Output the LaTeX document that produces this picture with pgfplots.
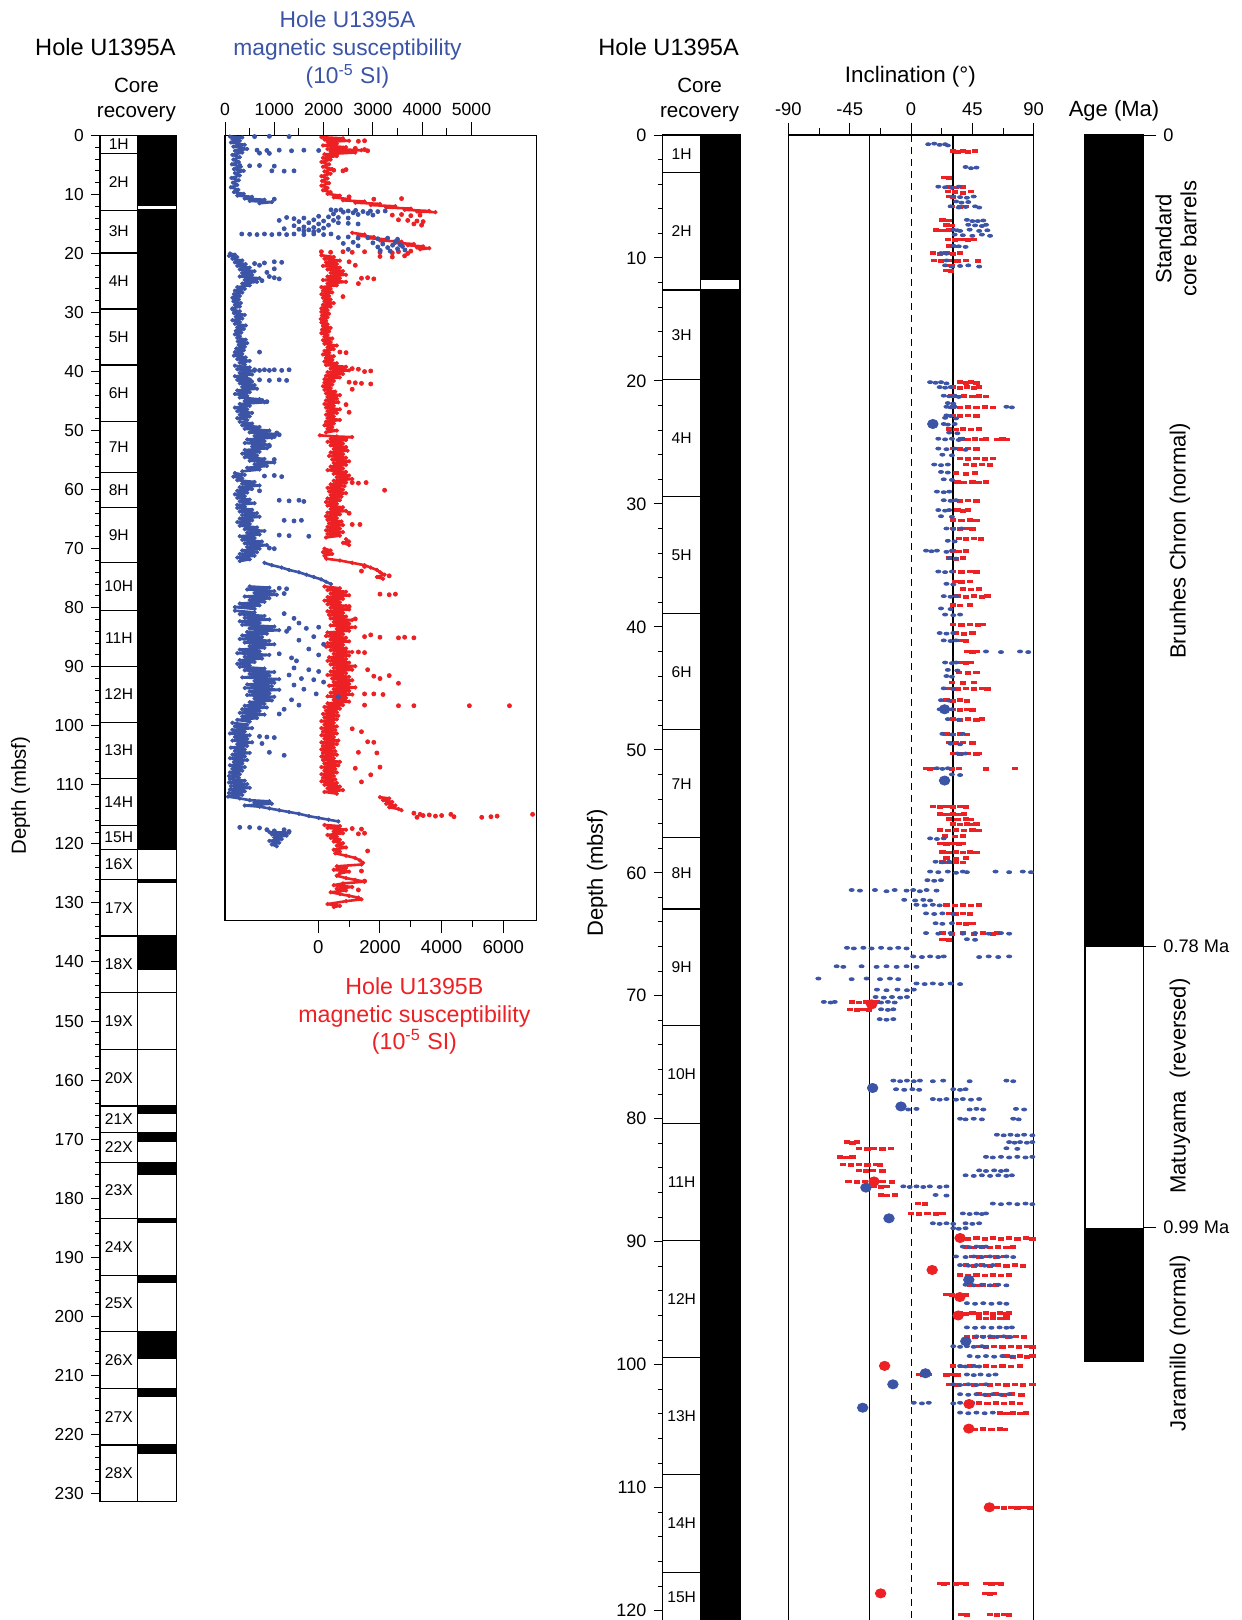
\documentclass[border=0pt]{standalone}
\usepackage{fontspec}
\setmainfont{Liberation Sans}
\usepackage{pgfplots}
\pgfplotsset{compat=1.18}

\definecolor{holeA}{RGB}{59,84,165}
\definecolor{holeB}{RGB}{237,32,36}
\newcommand{\fs}[2]{\fontsize{#1}{#2}\selectfont}

\tikzset{corelabel/.style={font=\fs{7.8}{9}, inner sep=0pt}}

\pgfplotsset{
  depth axis/.style={
    scale only axis, anchor=north west, y dir=reverse, ymin=0,
    axis line style={line width=0.6pt},
    tick style={black, line width=0.5pt},
    tick align=outside,
    scaled ticks=false,
    /pgf/number format/assume math mode=true,
    /pgf/number format/1000 sep={},
  },
  core axis/.style={depth axis, xmin=0, xmax=2, xtick=\empty,
    ytick pos=left, minor y tick num=4,
    major tick length=4.6pt, minor tick length=2.5pt, clip=false},
  boundary/.style={xcomb, black, line width=0.6pt},
  recovered/.style={fill=black, draw=none},
  magA/.style={holeA, line width=1.3pt, line join=round, line cap=round, mark=*, mark size=0.95pt, mark options={line width=0.3pt}},
  magB/.style={holeB, line width=1.3pt, line join=round, line cap=round, mark=*, mark size=0.95pt, mark options={line width=0.3pt}},
  dotA/.style={holeA, only marks, mark=*, mark size=1pt},
  dotB/.style={holeB, only marks, mark=*, mark size=1pt},
  incA/.style={holeA, only marks, mark=*, mark size=0.75pt, mark options={xscale=1.7}},
  incB/.style={holeB, only marks, mark=square*, mark size=0.65pt, mark options={xscale=2}},
  bigA/.style={holeA, only marks, mark=*, mark size=2.3pt, mark options={xscale=1.15}},
  bigB/.style={holeB, only marks, mark=*, mark size=2.3pt, mark options={xscale=1.15}},
}

\begin{document}
\begin{tikzpicture}
\path[use as bounding box] (0pt,0pt) rectangle (620.5pt,-810pt);

% ---------------- Hole U1395A core recovery (full hole) ----------------
\begin{axis}[core axis, at={(50pt,-67.7pt)}, width=38.35pt, height=683.1pt,
  ymax=231.4, ytick={0,10,...,230},
  yticklabel style={font=\fs{8.7}{10}}]
  \addplot[recovered] coordinates {(0.98,0)(2,0)(2,11.9)(0.98,11.9)} -- cycle;
  \addplot[recovered] coordinates {(0.98,12.5)(2,12.5)(2,120.9)(0.98,120.9)} -- cycle;
  \addplot[recovered] coordinates {(0.98,126.0)(2,126.0)(2,126.6)(0.98,126.6)} -- cycle;
  \addplot[recovered] coordinates {(0.98,135.6)(2,135.6)(2,141.3)(0.98,141.3)} -- cycle;
  \addplot[recovered] coordinates {(0.98,164.4)(2,164.4)(2,165.7)(0.98,165.7)} -- cycle;
  \addplot[recovered] coordinates {(0.98,168.9)(2,168.9)(2,170.5)(0.98,170.5)} -- cycle;
  \addplot[recovered] coordinates {(0.98,173.9)(2,173.9)(2,176.0)(0.98,176.0)} -- cycle;
  \addplot[recovered] coordinates {(0.98,183.4)(2,183.4)(2,184.2)(0.98,184.2)} -- cycle;
  \addplot[recovered] coordinates {(0.98,193.1)(2,193.1)(2,194.4)(0.98,194.4)} -- cycle;
  \addplot[recovered] coordinates {(0.98,202.6)(2,202.6)(2,207.3)(0.98,207.3)} -- cycle;
  \addplot[recovered] coordinates {(0.98,212.2)(2,212.2)(2,213.6)(0.98,213.6)} -- cycle;
  \addplot[recovered] coordinates {(0.98,221.8)(2,221.8)(2,223.4)(0.98,223.4)} -- cycle;
  \addplot[black, line width=0.6pt] coordinates {(0.98,0)(0.98,231.4)};
  \addplot[boundary] coordinates {(2,3.1)(2,12.65)(2,19.9)(2,29.4)(2,38.9)(2,48.4)(2,57.1)(2,63.0)
    (2,72.4)(2,80.4)(2,89.9)(2,99.4)(2,108.9)(2,116.9)(2,120.9)(2,126.0)(2,135.6)(2,145.2)
    (2,154.8)(2,164.4)(2,168.9)(2,173.9)(2,183.4)(2,193.1)(2,202.6)(2,212.2)(2,221.8)};
  \node[corelabel] at (axis cs:0.49,1.55) {1H};
  \node[corelabel] at (axis cs:0.49,7.85) {2H};
  \node[corelabel] at (axis cs:0.49,16.25) {3H};
  \node[corelabel] at (axis cs:0.49,24.65) {4H};
  \node[corelabel] at (axis cs:0.49,34.15) {5H};
  \node[corelabel] at (axis cs:0.49,43.65) {6H};
  \node[corelabel] at (axis cs:0.49,52.75) {7H};
  \node[corelabel] at (axis cs:0.49,60.05) {8H};
  \node[corelabel] at (axis cs:0.49,67.7) {9H};
  \node[corelabel] at (axis cs:0.49,76.4) {10H};
  \node[corelabel] at (axis cs:0.49,85.15) {11H};
  \node[corelabel] at (axis cs:0.49,94.65) {12H};
  \node[corelabel] at (axis cs:0.49,104.15) {13H};
  \node[corelabel] at (axis cs:0.49,112.9) {14H};
  \node[corelabel] at (axis cs:0.49,118.9) {15H};
  \node[corelabel] at (axis cs:0.49,123.45) {16X};
  \node[corelabel] at (axis cs:0.49,130.8) {17X};
  \node[corelabel] at (axis cs:0.49,140.4) {18X};
  \node[corelabel] at (axis cs:0.49,150.0) {19X};
  \node[corelabel] at (axis cs:0.49,159.6) {20X};
  \node[corelabel] at (axis cs:0.49,166.65) {21X};
  \node[corelabel] at (axis cs:0.49,171.4) {22X};
  \node[corelabel] at (axis cs:0.49,178.65) {23X};
  \node[corelabel] at (axis cs:0.49,188.25) {24X};
  \node[corelabel] at (axis cs:0.49,197.85) {25X};
  \node[corelabel] at (axis cs:0.49,207.4) {26X};
  \node[corelabel] at (axis cs:0.49,217.0) {27X};
  \node[corelabel] at (axis cs:0.49,226.6) {28X};
\end{axis}

% ---------------- Magnetic susceptibility, Hole U1395B (bottom scale) ----------------
\begin{axis}[depth axis, at={(112.5pt,-67.7pt)}, width=155.85pt, height=392.6pt,
  xmin=-3026, xmax=7084, ymax=133, ytick=\empty,
  xtick={0,2000,4000,6000}, minor xtick={1000,3000,5000},
  xtick pos=left, xticklabel pos=left,
  major tick length=6.3pt, minor tick length=3.3pt,
  axis line style={line width=0.75pt},
  xticklabel style={font=\fs{9.3}{11}}]
  \addplot[magB] coordinates {(100,0.3)(800,0.5)(200,0.7)(1000,0.9)(300,1.1)(600,1.4)(150,1.7)(900,2.0)(300,2.3)(1400,2.5)(400,2.7)(1200,2.9)(200,3.2)(600,3.5)(150,3.8)(400,4.1)(100,4.5)(350,4.9)(150,5.3)(450,5.7)(200,6.1)(400,6.5)(100,6.9)(300,7.3)(120,7.7)(350,8.1)(100,8.5)(300,8.9)(150,9.3)(400,9.6)(300,9.9)(700,10.2)(500,10.5)(1000,10.8)(800,11.0)(1500,11.2)(1200,11.4)(2000,11.6)(1700,11.8)(2500,12.0)(2200,12.2)(3000,12.4)(2800,12.6)(3600,12.8)(3200,12.9)(3800,13.0)};
  \addplot[magB] coordinates {(1100,16.5)(1500,16.8)(1300,17.0)(1800,17.2)(1600,17.4)(2200,17.6)(2000,17.8)(2700,18.0)(2500,18.2)(3100,18.4)(2900,18.6)(3400,18.8)(3200,19.0)(3600,19.1)(3300,19.3)};
  \addplot[magB] coordinates {(100,20.3)(500,20.6)(200,20.9)(700,21.2)(250,21.5)(600,21.8)(150,22.1)(700,22.4)(300,22.7)(800,23.0)(400,23.3)(900,23.6)(300,23.9)(700,24.2)(150,24.5)(900,24.8)(300,25.1)(600,25.4)(100,25.7)(400,26.0)(150,26.3)(450,26.6)(100,26.9)(350,27.2)(150,27.5)(400,27.8)(200,28.1)(500,28.4)(150,28.7)(400,29.0)(100,29.3)(300,29.6)(100,29.9)(350,30.2)(120,30.5)(300,30.8)(80,31.1)(250,31.4)(100,31.7)(300,32.0)(150,32.3)(400,32.6)(120,32.9)(350,33.2)(100,33.5)(300,33.8)(200,34.1)(450,34.4)(150,34.7)(400,35.0)(200,35.3)(600,35.6)(300,35.9)(500,36.2)(200,36.5)(350,36.8)(150,37.1)(500,37.4)(250,37.7)(450,38.0)(200,38.3)(600,38.6)(250,38.9)(900,39.2)(400,39.5)(1000,39.8)(300,40.1)(800,40.4)(250,40.7)(700,41.0)(200,41.3)(500,41.6)(200,41.9)(450,42.2)(150,42.5)(400,42.8)(200,43.1)(550,43.4)(250,43.7)(700,44.0)(300,44.3)(600,44.6)(250,44.9)(650,45.2)(200,45.5)(500,45.8)(250,46.1)(700,46.4)(300,46.7)(600,47.0)(250,47.3)(500,47.6)(300,47.9)(700,48.2)(250,48.5)(500,48.8)(200,49.1)(450,49.4)(300,49.7)(600,50.0)(250,50.3)};
  \addplot[magB] coordinates {(50,50.8)(600,51.0)(1100,51.1)(400,51.4)(900,51.6)(300,51.9)(800,52.2)(400,52.5)(900,52.8)(500,53.1)(950,53.4)(400,53.7)(800,54.0)(350,54.3)(900,54.6)(450,54.9)(1000,55.2)(500,55.5)(900,55.8)(400,56.1)(800,56.4)(300,56.7)(900,57.0)(500,57.3)(1000,57.6)(600,57.9)(1100,58.2)(500,58.5)(900,58.8)(400,59.1)(850,59.4)(300,59.7)(800,60.0)(350,60.3)(900,60.6)(400,60.9)(750,61.2)(300,61.5)(700,61.8)(250,62.1)(600,62.4)(300,62.7)(800,63.0)(400,63.3)(900,63.6)(300,63.9)(700,64.2)(250,64.5)(600,64.8)(300,65.1)(750,65.4)(350,65.7)(800,66.0)(300,66.3)(700,66.6)(250,66.9)(800,67.2)(300,67.5)(700,67.8)(250,68.1)};
  \addplot[magB] coordinates {(900,68.4)(1000,68.8)(800,69.0)(1000,69.4)};
  \addplot[magB] coordinates {(200,70.0)(400,70.3)(150,70.6)(450,70.9)(200,71.2)(260,71.7)(700,72.0)(1100,72.4)(1500,72.8)(1700,73.2)(1900,73.6)(2000,74.0)(2150,74.4)(1900,74.8)(2100,75.1)};
  \addplot[magB] coordinates {(200,76.4)(700,76.7)(300,77.0)(900,77.3)(400,77.6)(1000,77.9)(300,78.2)(800,78.5)(200,78.8)(700,79.1)(300,79.4)(900,79.7)(400,80.0)(1000,80.3)(300,80.6)(800,80.9)(350,81.2)(900,81.5)(400,81.8)(1100,82.1)(500,82.4)(1000,82.7)(400,83.0)(1200,83.3)(600,83.6)(1000,83.9)(300,84.2)(800,84.5)(250,84.8)(900,85.1)(400,85.4)(1000,85.7)(300,86.0)(800,86.3)(250,86.6)(900,86.9)(400,87.2)(1100,87.5)(500,87.8)(1000,88.1)(350,88.4)(900,88.7)(300,89.0)(1000,89.3)(400,89.6)(1200,89.9)(500,90.2)(1100,90.5)(400,90.8)(900,91.1)(300,91.4)(1000,91.7)(450,92.0)(1100,92.3)(500,92.6)(1000,92.9)(350,93.2)(1200,93.5)(500,93.8)(1000,94.1)(400,94.4)(1100,94.7)(300,95.0)(900,95.3)(500,95.6)(1000,95.9)(300,96.2)(800,96.5)(200,96.8)(700,97.1)(250,97.4)(600,97.7)(150,98.0)(650,98.3)(200,98.6)(600,98.9)(100,99.2)(500,99.5)(200,99.8)(600,100.1)(100,100.4)(550,100.7)(150,101.0)(600,101.3)(100,101.6)(500,101.9)(200,102.2)(650,102.5)(100,102.8)(600,103.1)(150,103.4)(500,103.7)(100,104.0)(550,104.3)(150,104.6)(600,104.9)(100,105.2)(500,105.5)(150,105.8)(700,106.1)(200,106.4)(650,106.7)(100,107.0)(550,107.3)(200,107.6)(600,107.9)(100,108.2)(500,108.5)(150,108.8)(550,109.1)(100,109.4)(600,109.7)(200,110.0)(700,110.3)(300,110.6)(800,110.9)(200,111.2)(600,111.5)};
  \addplot[magB] coordinates {(2000,112.1)(2300,112.3)(2100,112.6)(2400,112.9)(2200,113.2)(2500,113.5)(2300,113.8)(2600,114.1)(2700,114.3)};
  \addplot[magB] coordinates {(200,116.8)(700,117.0)(300,117.3)(900,117.6)(500,117.9)(800,118.2)(300,118.5)(600,118.8)(400,119.0)(700,119.3)(500,119.6)(800,119.9)(600,120.3)(900,120.6)(500,121.0)(700,121.3)(550,121.6)(900,122.0)(1200,122.4)(1350,122.8)(1450,123.2)(1400,123.5)(600,123.8)(900,124.1)(500,124.4)(1000,124.7)(700,125.0)(600,125.4)(900,125.8)(1200,126.1)(1500,126.4)(800,126.7)(500,127.0)(1100,127.3)(600,127.6)(900,127.9)(400,128.2)(700,128.5)(1000,128.8)(1300,129.1)(1400,129.4)(900,129.7)(300,130.2)(700,130.5)(500,130.7)};
  \addplot[dotB] coordinates {(1500,0.9)(1300,1.0)(1200,2.2)(1500,2.4)(1600,2.6)(500,5.9)(800,6.0)(900,5.8)(2700,10.7)(1800,10.8)(1000,10.4)
    (2400,13.5)(2700,13.4)(3000,13.6)(3300,13.5)(2600,14.3)(2900,14.4)(3200,14.5)(3400,14.6)(3100,15.0)(3350,15.2)
    (100,19.7)(400,19.8)(800,19.7)(1100,19.8)(1500,19.7)(2000,19.8)(2400,19.9)(2600,19.7)(2900,20.0)(3000,19.6)(2000,20.5)(2400,20.6)(2800,20.4)
    (1000,21.4)(1200,22.0)(1400,24.2)(1600,24.1)(1800,24.3)(1300,25.1)(800,27.3)(700,36.7)(900,36.8)(1100,39.5)(1300,39.6)(1500,40.0)(1700,39.9)
    (1000,41.8)(1200,41.9)(1400,42.0)(1700,42.1)(1100,43.0)(900,45.6)(1000,46.9)
    (1100,58.8)(1300,58.9)(1550,58.8)(2150,60.1)(1000,64.0)(1350,65.9)(1100,65.9)(1500,73.0)(1400,73.8)(2300,74.6)
    (2000,77.7)(2300,77.8)(2500,77.7)(1000,79.8)(1200,81.9)(1700,84.6)(2000,85.0)(2600,85.1)(2800,85.0)(3100,85.1)(1500,84.9)
    (1300,87.5)(1500,87.6)(1600,90.5)(1800,91.6)(2000,92.0)(2300,91.5)(2600,92.8)(1500,94.6)(1800,94.6)(2100,94.7)
    (1500,96.5)(2600,96.6)(3100,96.6)(4900,96.6)(6200,96.6)(1100,100.5)(1400,101.0)(1600,102.7)(1800,102.8)(1300,104.5)(1900,104.6)
    (2000,107.0)(1200,107.2)(1700,108.3)(1400,109.5)
    (3100,114.8)(3300,115.0)(3400,115.2)(3600,115.1)(3800,115.3)(4000,115.2)(4400,115.4)(5300,115.5)(5600,115.4)(5800,115.3)(6950,115.0)(4300,115.0)(3200,115.5)
    (1500,118.2)(1300,118.3)(1100,117.4)(1400,117.5)(1600,121.2)(1400,124.6)(1500,126.3)(1300,127.8)};
\end{axis}

% ---------------- Magnetic susceptibility, Hole U1395A (top scale) ----------------
\begin{axis}[depth axis, at={(112.5pt,-67.7pt)}, width=155.85pt, height=392.6pt,
  xmin=0, xmax=6323, ymax=133, ytick=\empty,
  xtick={0,1000,...,5000}, minor xtick={500,1500,...,4500},
  xtick pos=right, xticklabel pos=right,
  major tick length=6.5pt, minor tick length=3.5pt,
  axis line style={line width=0.75pt},
  xticklabel style={font=\fs{8.8}{10}}]
  \addplot[magA] coordinates {(100,0.2)(350,0.35)(150,0.6)(300,0.9)(120,1.2)(400,1.6)(170,1.9)(450,2.3)(200,2.6)(350,2.9)(150,3.3)(300,3.7)(170,4.1)(280,4.5)(140,4.9)(320,5.3)(180,5.7)(380,6.0)(200,6.4)(300,6.8)(130,7.2)(280,7.6)(160,8.0)(250,8.4)(120,8.8)(270,9.2)(180,9.6)(380,9.9)(250,10.2)(550,10.4)(400,10.7)(800,10.9)(500,11.1)(950,11.3)(700,11.5)};
  \addplot[magA] coordinates {(100,20.0)(200,20.2)(80,20.4)(250,20.6)(150,20.9)(350,21.2)(200,21.5)(420,21.8)(250,22.1)(500,22.4)(300,22.7)(600,23.0)(350,23.3)(550,23.6)(300,23.9)(700,24.2)(400,24.5)(650,24.8)(350,25.1)(500,25.4)(250,25.7)(400,26.0)(200,26.3)(350,26.6)(180,26.9)(300,27.2)(150,27.5)(280,27.8)(170,28.1)(320,28.4)(200,28.7)(300,29.0)(150,29.3)};
  \addplot[magA] coordinates {(150,29.5)(300,29.8)(180,30.1)(400,30.4)(220,30.7)(350,31.0)(150,31.3)(300,31.6)(200,31.9)(420,32.2)(250,32.5)(380,32.8)(220,33.1)(330,33.4)(200,33.7)(300,34.0)(250,34.3)(420,34.6)(260,34.9)(450,35.2)(280,35.5)(400,35.8)(230,36.1)(380,36.4)(200,36.7)(350,37.0)(180,37.3)(420,37.6)(250,37.9)(500,38.2)(300,38.5)(400,38.8)};
  \addplot[magA] coordinates {(200,39.0)(500,39.3)(250,39.6)(600,39.9)(300,40.2)(550,40.5)(200,40.8)(450,41.1)(250,41.4)(550,41.7)(300,42.0)(600,42.3)(350,42.6)(650,42.9)(250,43.2)(500,43.5)(200,43.8)(450,44.1)(300,44.4)(700,44.7)(400,45.0)(800,45.2)(300,45.5)(500,45.8)(200,46.1)(450,46.4)(250,46.7)(550,47.0)(300,47.3)(500,47.6)(250,47.9)(450,48.2)};
  \addplot[magA] coordinates {(300,48.5)(550,48.8)(350,49.1)(700,49.4)(400,49.7)(900,50.0)(500,50.3)(1050,50.6)(600,50.9)(950,51.2)(450,51.5)(800,51.8)(400,52.1)(900,52.4)(550,52.7)(850,53.0)(400,53.3)(700,53.6)(350,53.9)(650,54.2)(400,54.5)(800,54.8)(500,55.1)(1000,55.4)(600,55.7)(850,56.0)(450,56.3)(700,56.6)(350,56.9)};
  \addplot[magA] coordinates {(200,57.2)(400,57.5)(170,57.8)(350,58.1)(250,58.4)(600,58.7)(350,59.0)(700,59.3)(300,59.6)(550,59.9)(250,60.2)(450,60.5)(200,60.8)(400,61.1)(250,61.4)(500,61.7)(300,62.0)(600,62.3)(250,62.6)(400,62.9)};
  \addplot[magA] coordinates {(250,63.1)(550,63.4)(300,63.7)(650,64.0)(350,64.3)(700,64.6)(300,64.9)(550,65.2)(250,65.5)(500,65.8)(300,66.1)(650,66.4)(400,66.7)(800,67.0)(450,67.3)(700,67.6)(300,67.9)(600,68.2)(350,68.5)(750,68.8)(400,69.1)(850,69.4)(450,69.7)(700,70.0)(350,70.3)(650,70.6)(300,70.9)(600,71.2)(250,71.5)(500,71.8)(300,72.1)};
  \addplot[magA] coordinates {(800,72.4)(950,72.8)(1150,73.2)(1300,73.6)(1500,74.0)(1650,74.4)(1800,74.8)(1950,75.2)(2050,75.6)(2150,76.0)};
  \addplot[magA] coordinates {(500,76.4)(900,76.6)(450,76.9)(1000,77.2)(600,77.5)(1050,77.8)(400,78.1)(900,78.4)(500,78.7)(800,79.0)(300,79.3)(700,79.6)(200,79.9)(600,80.2)};
  \addplot[magA] coordinates {(200,80.5)(600,80.8)(300,81.1)(800,81.4)(400,81.7)(900,82.0)(300,82.3)(700,82.6)(350,82.9)(1000,83.2)(500,83.5)(1100,83.8)(450,84.1)(850,84.4)(350,84.7)(750,85.0)(300,85.3)(900,85.6)(400,85.9)(1000,86.2)(500,86.5)(800,86.8)(300,87.1)(700,87.4)(250,87.7)(900,88.0)(400,88.3)(750,88.6)(300,88.9)(600,89.2)(250,89.5)(500,89.8)};
  \addplot[magA] coordinates {(300,90.0)(800,90.3)(400,90.6)(1000,90.9)(500,91.2)(900,91.5)(350,91.8)(1100,92.1)(600,92.4)(1000,92.7)(450,93.0)(950,93.3)(400,93.6)(1100,93.9)(500,94.2)(900,94.5)(450,94.8)(1000,95.1)(600,95.4)(950,95.7)(500,96.0)(800,96.3)(400,96.6)(850,96.9)(350,97.2)(700,97.5)(300,97.8)(800,98.1)(350,98.4)(650,98.7)(250,99.0)(500,99.3)};
  \addplot[magA] coordinates {(150,99.5)(450,99.8)(200,100.1)(550,100.4)(150,100.7)(400,101.0)(100,101.3)(500,101.6)(200,101.9)(450,102.2)(150,102.5)(550,102.8)(250,103.1)(450,103.4)(120,103.7)(400,104.0)(200,104.3)(500,104.6)(150,104.9)(400,105.2)(100,105.5)(450,105.8)(180,106.1)(350,106.4)(100,106.7)(400,107.0)(150,107.3)(350,107.6)(100,107.9)(300,108.2)(80,108.5)(280,108.8)};
  \addplot[magA] coordinates {(100,109.0)(400,109.3)(80,109.6)(450,109.9)(120,110.2)(500,110.5)(100,110.8)(400,111.1)(80,111.4)(350,111.7)(60,112.0)(300,112.3)(500,112.6)(900,112.8)(600,113.0)(950,113.2)(400,113.5)(700,113.7)(900,114.0)(1100,114.3)(1300,114.6)(1500,114.9)(1700,115.3)(1900,115.6)(2100,115.9)(2300,116.2)};
  \addplot[magA] coordinates {(900,118.0)(1300,118.1)(950,118.4)(1250,118.6)(1000,118.9)(1150,119.2)(900,119.5)(1100,119.8)(950,120.1)(1050,120.4)};
  \addplot[dotA] coordinates {(600,0.2)(900,0.15)(1300,0.2)(650,2.5)(850,2.55)(1100,2.5)(1350,2.6)(1600,2.5)(1900,2.55)(700,3.0)(900,3.05)(300,5.1)(500,5.15)(700,5.1)(1000,5.2)(950,6.0)(1200,6.05)(1400,6.0)(1000,10.8)
    (2150,12.6)(2250,12.7)(2350,12.6)(2500,12.8)(2650,12.7)(2800,12.9)(2950,12.8)(3100,12.9)(3250,12.8)(2400,13.0)(2600,13.1)(2900,13.2)(2200,13.3)(2700,13.4)(3000,13.5)
    (1900,13.7)(2100,13.8)(2300,13.9)(2500,14.0)(1250,13.9)(1400,14.1)(1600,14.0)(1800,14.3)(2000,14.5)(2200,14.4)(1100,14.4)(1500,14.6)(1700,14.8)(1900,15.0)(2100,15.2)
    (2300,14.8)(2500,14.9)(2700,15.0)(1400,15.3)(1600,15.5)(1800,15.6)(2000,15.7)(1500,15.9)(1700,16.0)(1900,16.1)(1200,15.8)(1600,16.2)(1800,16.3)
    (340,16.7)(500,16.75)(650,16.8)(800,16.7)(950,16.8)(1100,16.7)(1250,16.8)(1400,16.7)(1600,16.8)(1800,16.7)(2000,16.8)(2150,16.7)
    (2300,17.3)(2500,17.2)(2700,17.4)(2900,17.3)(3100,17.5)(3300,17.4)(3500,17.6)
    (3000,18.2)(3200,18.4)(3400,18.6)(3600,18.8)(3300,19.0)(3500,19.2)(3100,18.9)(2700,18.7)(2500,19.3)(3650,19.4)(2400,18.3)(2600,18.1)(3450,18.0)(3550,18.5)(3150,19.5)(3350,19.6)
    (800,21.6)(1000,21.4)(1150,21.5)(600,21.7)(900,23.9)(1000,24.1)(1100,24.3)(750,24.6)(850,23.2)(700,22.0)(1000,22.6)
    (700,36.7)(600,39.7)(800,39.7)(900,39.8)(1000,39.7)(1150,39.8)(1300,39.7)(700,39.8)(300,41.4)(500,41.4)(700,41.4)(900,41.5)(1100,41.4)(1250,41.5)
    (850,45.1)(750,44.9)(1050,50.4)(1100,50.7)(1000,51.0)(900,52.6)(1000,54.9)
    (800,57.7)(1000,57.6)(1150,57.8)(700,60.2)(1100,61.8)(1300,61.9)(1500,61.8)(1600,62.0)
    (1200,65.2)(1400,65.3)(1550,65.2)(1300,67.8)(1700,67.9)(1100,67.7)(900,69.9)(1000,70.0)
    (1100,76.7)(1250,76.8)(1200,77.6)
    (1200,81.0)(1400,81.8)(1500,82.6)(1300,83.5)(1650,83.5)(1900,83.3)(1250,84.0)(1800,84.9)(1500,85.5)(2000,86.2)(1700,87.0)(1100,87.8)(1900,88.0)(1350,88.5)(1450,89.0)
    (1400,90.2)(1700,90.5)(1900,90.8)(1300,91.4)(1550,92.0)(1800,92.2)(2000,92.6)(1400,93.1)(1600,93.8)(1850,94.6)(2300,95.1)(1350,95.6)(1500,96.5)(1200,97.2)(1100,98.0)
    (700,101.8)(850,101.9)(1000,102.0)(750,103.0)(900,104.5)(1200,105.0)
    (300,117.2)(500,117.2)(700,117.3)(850,117.6)(1000,117.8)(1200,117.6)(1300,117.9)};
\end{axis}

% ---------------- Hole U1395A core recovery (upper 120 m) ----------------
\begin{axis}[core axis, at={(331.35pt,-67.5pt)}, width=38.65pt, height=747pt,
  ymax=121.5, ytick={0,10,...,120},
  yticklabel style={font=\fs{9}{10}}]
  \addplot[recovered] coordinates {(0.97,0)(2,0)(2,11.8)(0.97,11.8)} -- cycle;
  \addplot[recovered] coordinates {(0.97,12.55)(2,12.55)(2,121.5)(0.97,121.5)} -- cycle;
  \addplot[black, line width=0.6pt] coordinates {(0.97,0)(0.97,121.5)};
  \addplot[boundary] coordinates {(0.97,3.07)(0.97,12.6)(0.97,19.87)(0.97,29.4)(0.97,38.9)(0.97,48.35)
    (0.97,57.1)(0.97,62.95)(0.97,72.4)(0.97,80.4)(0.97,89.9)(0.97,99.4)(0.97,108.9)(0.97,116.9)};
  \node[corelabel] at (axis cs:0.49,1.55) {1H};
  \node[corelabel] at (axis cs:0.49,7.85) {2H};
  \node[corelabel] at (axis cs:0.49,16.25) {3H};
  \node[corelabel] at (axis cs:0.49,24.65) {4H};
  \node[corelabel] at (axis cs:0.49,34.15) {5H};
  \node[corelabel] at (axis cs:0.49,43.65) {6H};
  \node[corelabel] at (axis cs:0.49,52.75) {7H};
  \node[corelabel] at (axis cs:0.49,60.05) {8H};
  \node[corelabel] at (axis cs:0.49,67.7) {9H};
  \node[corelabel] at (axis cs:0.49,76.4) {10H};
  \node[corelabel] at (axis cs:0.49,85.15) {11H};
  \node[corelabel] at (axis cs:0.49,94.65) {12H};
  \node[corelabel] at (axis cs:0.49,104.15) {13H};
  \node[corelabel] at (axis cs:0.49,112.9) {14H};
  \node[corelabel] at (axis cs:0.49,118.9) {15H};
\end{axis}

% ---------------- Inclination ----------------
\begin{axis}[depth axis, at={(394.2pt,-67.5pt)}, width=122.65pt, height=747pt,
  xmin=-90, xmax=90, ymax=121.5, ytick=\empty,
  xtick={-90,-45,0,45,90}, xticklabels={-90,-45,0,45,90},
  minor xtick={-67.5,-22.5,22.5,67.5},
  xtick pos=right, xticklabel pos=right,
  major tick length=6.2pt, minor tick length=3.5pt,
  axis line style={line width=0.7pt},
  xticklabel style={font=\fs{9.2}{10}}]
  \addplot[incB] coordinates {(31,1.3)(34,1.35)(38,1.3)(42,1.35)(47,1.3)(24,3.45)(28,3.5)(28,4.2)(33,4.25)(38,4.2)(27,4.6)(32,4.65)(38,4.7)(44,4.6)(28,5.0)(31,5.05)(30,5.8)(36,5.85)(40,5.8)(23,6.9)(28,6.95)(26,7.3)(30,7.35)(18,7.7)(23,7.75)(28,7.7)(27,8.5)(32,8.55)(37,8.5)(42,8.55)(46,8.5)(28,9.0)(34,9.05)(16,9.6)(21,9.65)(26,9.6)(31,9.65)(36,9.6)(17,10.2)(22,10.25)(28,10.2)(34,10.25)(40,10.2)(49,10.25)(26,10.6)(30,10.65)(26,11.0)(29,11.05)
    (36,20.1)(40,20.15)(44,20.1)(48,20.15)(31,20.5)(36,20.55)(41,20.5)(46,20.55)(50,20.5)(29,21.2)(34,21.25)(39,21.2)(45,21.25)(50,21.2)(55,21.25)(31,22.1)(36,22.15)(42,22.1)(48,22.15)(54,22.1)(60,22.15)(31,22.8)(36,22.85)(42,22.8)(48,22.85)(28,23.9)(33,23.95)(38,23.9)(44,23.95)(50,23.9)
    (37,24.7)(42,24.75)(47,24.7)(52,24.75)(55,24.7)(63,24.75)(67,24.7)(70,24.75)(31,25.5)(36,25.55)(42,25.5)(48,25.55)(36,26.3)(42,26.35)(48,26.3)(54,26.35)(60,26.3)(40,26.8)(46,26.85)(52,26.8)(58,26.85)(33,27.5)(40,27.55)(47,27.5)
    (34,28.2)(39,28.25)(45,28.2)(50,28.25)(55,28.2)(31,29.7)(36,29.75)(42,29.7)(48,29.75)(34,30.5)(38,30.55)(42,30.5)(31,31.3)(37,31.35)(43,31.3)(48,31.35)(31,32.0)(36,32.05)(41,32.0)(45,32.05)(35,32.8)(40,32.85)(46,32.8)(51,32.85)
    (31,33.8)(35,33.85)(40,33.8)(28,34.4)(33,34.45)(38,34.4)(31,35.5)(37,35.55)(43,35.5)(48,35.55)(32,36.3)(37,36.35)(43,36.3)(38,36.9)(44,36.95)(50,36.9)(34,37.5)(40,37.55)(46,37.5)(52,37.55)(56,37.5)(31,38.2)(36,38.25)(43,38.2)
    (31,39.8)(37,39.85)(43,39.8)(49,39.85)(53,39.8)(33,40.5)(39,40.55)(45,40.5)(36,41.1)(40,41.15)(41,42.0)(45,42.05)(48,42.0)(36,42.9)(40,42.95)(44,42.9)(35,43.7)(42,43.75)(48,43.7)(30,44.5)(38,44.55)(46,44.5)
    (28,45.0)(34,45.05)(40,45.0)(46,45.05)(52,45.0)(56,45.05)(26,45.96)(31,46.0)(36,45.96)(41,46.0)(31,46.7)(36,46.75)(41,46.7)(45,46.75)(31,47.5)(36,47.55)(42,47.5)(48,47.55)(52,47.5)(26,48.7)(31,48.75)(36,48.7)(41,48.75)
    (28,49.4)(33,49.45)(38,49.4)(45,49.45)(31,50.3)(36,50.35)(42,50.3)(48,50.35)(50,50.3)(11,51.5)(14,51.55)(17,51.5)(30,51.55)(35,51.5)(55,51.55)(76,51.5)
    (16,54.6)(21,54.65)(26,54.6)(31,54.65)(36,54.6)(40,54.65)(21,55.2)(26,55.25)(31,55.2)(35,55.25)(39,55.2)(28,55.6)(34,55.65)(40,55.6)(44,55.65)(31,56.0)(36,56.05)(41,56.0)(45,56.05)(48,56.0)
    (21,56.5)(27,56.55)(33,56.5)(39,56.55)(45,56.5)(50,56.55)(25,57.0)(32,57.05)(38,57.0)(21,57.6)(26,57.65)(31,57.6)(35,57.65)(38,57.6)(23,58.3)(28,58.35)(33,58.3)(38,58.35)(43,58.3)(48,58.35)(26,58.8)(33,58.85)(40,58.8)(23,59.1)(28,59.15)(33,59.1)(38,59.15)
    (26,62.6)(32,62.65)(38,62.6)(44,62.65)(50,62.6)(28,63.3)(33,63.35)(38,63.3)(43,63.35)(35,64.1)(40,64.15)(45,64.1)(23,64.9)(30,64.95)(38,64.9)(46,64.95)(53,64.9)(60,64.95)(63,64.9)(23,65.4)(28,65.45)
    (-43.6,70.5)(-38,70.55)(-33,70.5)(-28,70.55)(-25,70.5)(-45,71.1)(-40,71.15)(-35,71.1)(-31,71.15)
    (-47,81.9)(-43,81.95)(-40,81.9)(-38,82.4)(-32,82.45)(-27,82.4)(-21,82.45)(-15,82.4)(-52,83.1)(-48,83.15)(-43,83.1)(-50,83.7)(-44,83.75)(-38,83.7)(-32,83.75)(-26,83.7)(-23,83.75)(-38,84.2)(-33,84.25)(-28,84.2)(-21,84.25)
    (-46,85.1)(-40,85.15)(-34,85.1)(-27,85.15)(-21,85.1)(-14,85.15)(-27,85.5)(-22,85.55)(-18,85.5)(-22,86.2)(-18,86.25)(-12,86.2)(5,86.9)(10,86.95)(0,87.7)(6,87.75)(12,87.7)(18,87.75)(23,87.7)
    (36,89.7)(42,89.75)(48,89.7)(54,89.75)(60,89.7)(66,89.75)(72,89.7)(78,89.75)(84,89.7)(89,89.75)(40,90.4)(46,90.45)(52,90.4)(58,90.45)(64,90.4)(70,90.45)(75,90.4)(45,91.2)(50,91.25)(56,91.2)(62,91.25)(68,91.2)
    (40,91.9)(46,91.95)(52,91.9)(58,91.95)(64,91.9)(70,91.95)(76,91.9)(82,91.95)(36,92.7)(42,92.75)(48,92.7)(54,92.75)(60,92.7)(66,92.75)(72,92.7)(43,93.5)(48,93.55)(53,93.5)(58,93.55)(62,93.5)(26,94.3)(30,94.35)(35,94.3)(40,94.35)
    (36,95.8)(40,95.85)(45,95.8)(50,95.85)(55,95.8)(60,95.85)(65,95.8)(70,95.85)(72,95.8)(50,96.2)(55,96.25)(60,96.2)(65,96.25)(70,96.2)(41,97.7)(47,97.75)(53,97.7)(59,97.75)(65,97.7)(71,97.75)(77,97.7)(83,97.75)
    (50,98.5)(55,98.55)(61,98.5)(67,98.55)(73,98.5)(79,98.55)(85,98.5)(89,98.55)(70,99.3)(75,99.35)(80,99.3)(85,99.35)(89,99.3)(31,100.1)(37,100.15)(43,100.1)(49,100.15)(55,100.1)(61,100.15)(67,100.1)(73,100.15)(80,100.1)
    (6,100.8)(9,100.85)(13,100.8)(26,100.85)(30,100.8)(34,100.85)(28,101.6)(34,101.65)(40,101.6)(46,101.65)(52,101.6)(58,101.65)(64,101.6)(70,101.65)(76,101.6)(82,101.65)(89,101.6)
    (50,102.4)(56,102.45)(62,102.4)(68,102.45)(74,102.4)(81,102.45)(50,103.1)(56,103.15)(62,103.1)(68,103.15)(74,103.1)(80,103.15)(65,103.9)(70,103.95)(75,103.9)(80,103.95)(84,103.9)
    (41,105.2)(47,105.25)(53,105.2)(59,105.25)(65,105.2)(69,105.25)(63,111.6)(68,111.65)(73,111.6)(78,111.65)(83,111.6)(87,111.65)
    (21,117.8)(24,117.85)(26,117.8)(33,117.85)(37,117.8)(40,117.85)(55,117.8)(59,117.85)(63,117.8)(66,117.85)(54,118.6)(58,118.65)(61,118.6)(37,120.3)(41,120.35)(58,120.3)(63,120.35)(68,120.3)(72,120.35)};
  \addplot[incA] coordinates {(12.6,0.75)(17,0.7)(21,0.8)(25,0.75)(27,0.85)(40,2.6)(44,2.7)(48,2.65)(20,4.2)(25,4.25)(30,4.3)(35,4.2)(31,5.0)(36,5.05)(41,5.1)(46,5.0)(33,5.4)(37,5.5)(42,5.45)(29,5.8)(35,5.9)(40,5.85)(47,5.8)(50,5.9)
    (41,6.9)(45,7.0)(49,7.0)(53,6.95)(42,7.3)(47,7.35)(52,7.4)(55,7.3)(31,7.7)(34,7.75)(36,7.8)(43,7.7)(50,7.8)(56,7.75)(32,8.1)(38,8.15)(45,8.2)(52,8.1)(58,8.2)(31,9.0)(35,9.05)(40,9.1)(22,9.6)(26,9.65)(26,10.2)(25,10.6)(30,10.7)(36,10.65)(42,10.6)(50,10.7)
    (14,20.1)(18,20.15)(22,20.1)(26,20.2)(21,20.5)(25,20.55)(29,20.5)(27,21.8)(31,21.85)(24,21.2)(28,21.25)(32,21.2)(35,21.3)(26,22.1)(29,22.15)(32,22.1)(70,22.1)(74,22.15)(25,23.0)(33,23.05)(26,22.8)(29,22.85)(24,23.5)(27,23.55)(32,23.5)(28,24.2)(34,24.25)
    (20,24.7)(25,24.75)(30,24.7)(35,24.8)(38,24.7)(20,25.5)(26,25.55)(32,25.5)(40,25.6)(23,26.0)(30,26.05)(17,26.8)(22,26.85)(27,26.8)(22,27.4)(27,27.45)(24,28.0)(30,28.05)(19,29.0)(24,29.05)(28,29.0)(24,29.7)(29,29.75)(33,29.7)(20,30.5)(25,30.55)(28,30.5)(22,31.0)(30,31.05)
    (26,32.0)(31,32.05)(37,32.0)(27,33.0)(32,33.05)(11,33.8)(15,33.85)(19,33.8)(26,33.9)(30,33.8)(28,34.4)(33,34.45)(20,35.5)(25,35.55)(30,35.5)(26,36.5)(31,36.55)(24,37.5)(29,37.55)(33,37.5)(22,38.5)(29,38.55)(25,39.0)(31,39.05)(36,39.0)
    (21,40.5)(26,40.55)(31,40.5)(24,41.1)(29,41.15)(33,41.1)(55,42.0)(66,42.05)(80,42.0)(86,42.05)(25,42.9)(30,42.95)(33,42.9)(27,43.5)(34,43.55)(26,44.0)(30,44.05)(24,45.0)(31,45.05)(22,45.96)(28,46.0)(21,46.7)(26,46.75)(30,46.7)(27,47.5)(35,47.55)
    (23,48.7)(30,48.75)(38,48.7)(29,49.5)(36,49.55)(34,50.3)(37,50.35)(40,50.3)(19,51.5)(23,51.55)(27,51.5)(30,52.0)(36,52.05)
    (14,57.2)(19,57.25)(24,57.2)(18,59.1)(23,59.15)(28,59.1)(14,59.9)(20,59.95)(27,59.9)(33,60.0)(38,59.9)(41,59.95)(62,59.9)(72,59.95)(82,59.9)(88,59.95)(12,60.6)(17,60.65)(22,60.6)
    (-43.6,61.4)(-37.5,61.45)(-26.5,61.4)(-18,61.5)(-12,61.4)(-3.3,61.45)(1.6,61.4)(6.5,61.5)(11.4,61.4)(18.7,61.45)(-5,62.2)(3,62.25)(9,62.2)(14,62.25)(4,62.6)(10,62.65)(16,62.6)(21,62.65)
    (11,63.3)(17,63.35)(23,63.3)(31,63.35)(18,64.1)(23,64.15)(30,64.1)(11,64.9)(20,64.95)(29,64.9)(38,64.95)(47,64.9)(57,64.95)(66,64.9)(72,64.95)(41,65.4)(47,65.45)
    (-47,66.1)(-42,66.15)(-35,66.1)(-29,66.15)(-22,66.1)(-15.5,66.15)(-9.4,66.1)(-3.3,66.15)(1.6,66.8)(8,66.85)(14,66.8)(20,66.85)(24,66.8)(50,66.85)(57,66.8)(64,66.85)(72,66.8)
    (-54.6,67.6)(-49.7,67.65)(-36.3,67.6)(-25.3,67.65)(-18,67.6)(-10.6,67.65)(-3.3,67.6)(4,67.65)(-68,68.6)(-43.6,68.65)(-32.6,68.6)(-22.8,68.65)(-15.5,68.6)(-9.4,68.65)(4,69.0)(10,69.05)(16,69.0)(22,69.05)(29,69.0)(36,69.05)
    (-25,69.5)(-18,69.55)(-10,69.5)(-3,69.55)(2,69.5)(-26,70.1)(-20,70.15)(-14,70.1)(-8,70.15)(-3,70.1)(-64,70.5)(-59,70.55)(-56,70.5)(-22,70.55)(-17,70.5)(-12,70.55)(-22,71.1)(-17,71.15)(-13,71.1)(-23,71.9)(-18,71.95)(-13,71.9)
    (-13,76.9)(-8,76.95)(-3,76.9)(2,76.95)(6.5,76.9)(16,76.95)(23.6,76.9)(43,76.95)(70,76.9)(75,76.95)(-11,77.6)(-5,77.65)(1,77.6)(6,77.65)(31,77.6)(36,77.65)(40,77.6)(16,78.4)(21,78.45)(26,78.4)(33,78.45)(38,78.4)(44,78.45)(50,78.4)
    (-7,79.2)(-2,79.25)(4,79.2)(43,79.25)(48,79.2)(53,79.25)(77,79.2)(83,79.25)(36,80.0)(40,80.05)(46,80.0)(52,80.05)(75,80.0)(79,80.05)(63,81.3)(68,81.35)(73,81.3)(78,81.35)(83,81.3)(89,81.35)(72,81.9)(76,81.95)(80,81.9)(85,81.95)(89,81.9)(70,82.4)(78,82.45)
    (55,83.1)(60,83.15)(66,83.1)(72,83.15)(78,83.1)(84,83.15)(89,83.1)(50,84.2)(55,84.25)(61,84.2)(66,84.25)(70,84.2)(40,84.6)(46,84.65)(52,84.6)(58,84.65)(64,84.6)(70,84.65)(74,84.6)
    (-5.7,85.5)(-1,85.55)(4,85.5)(9,85.55)(13.8,85.5)(21,85.55)(26,85.5)(18,86.2)(26,86.25)(60,86.9)(66,86.95)(72,86.9)(78,86.95)(84,86.9)(89,86.95)(38,87.7)(43,87.75)(48,87.7)(52,87.75)(55,87.7)
    (16,88.5)(21,88.55)(26,88.5)(31,88.55)(40,88.5)(45,88.55)(50,88.5)(31,88.9)(35,88.95)(40,88.9)(38,90.4)(43,90.45)(48,90.4)(52,90.45)(55,90.4)(33,91.2)(40,91.25)(46,91.2)(52,91.25)(58,91.2)(64,91.25)(70,91.2)(75,91.25)
    (36,91.9)(42,91.95)(48,91.9)(54,91.95)(60,91.9)(40,93.5)(46,93.55)(52,93.5)(58,93.55)(64,93.5)(70,93.55)(41,95.0)(47,95.05)(53,95.0)(59,95.05)(65,95.0)(70,95.05)(41,96.97)(47,97.0)(53,96.97)(59,97.0)(65,96.97)(70,97.0)(74,96.97)
    (48,97.7)(53,97.75)(58,97.7)(63,97.75)(68,97.7)(73,97.75)(31,98.5)(36,98.55)(41,98.5)(46,98.55)(52,98.5)(55,98.55)(43,99.3)(49,99.35)(55,99.3)(61,99.35)(67,99.3)(74,99.35)(36,100.1)(40,100.15)(46,100.1)(50,100.15)
    (41,100.8)(46,100.85)(51,100.8)(57,100.85)(62,100.8)(31,101.6)(36,101.65)(42,101.6)(48,101.65)(55,101.6)(36,102.4)(42,102.45)(48,102.4)(54,102.45)(60,102.4)(66,102.45)(72,102.4)
    (2,103.1)(8,103.15)(13,103.1)(31,103.15)(36,103.1)(41,103.15)(45,103.1)(36,103.9)(42,103.95)(48,103.9)(54,103.95)(60,103.9)};
  \addplot[bigB] coordinates {(-28.9,70.7)(-27.2,85.1)(36.0,89.7)(15.5,92.3)(35.8,94.5)(34.6,96.0)(-19.4,100.1)(42.6,103.2)(42.4,105.2)(57.5,111.6)(-22.3,118.6)};
  \addplot[bigA] coordinates {(16.0,23.5)(24.6,46.7)(24.6,52.5)(-28.2,77.5)(-7.4,79.0)(-33.1,85.6)(-16.2,88.1)(42.4,93.1)(40.2,98.1)(10.6,100.7)(-13.3,101.6)(-35.5,103.5)};
  \addplot[black, line width=0.7pt] coordinates {(-30.7,0)(-30.7,121.5)};
  \addplot[black, line width=0.7pt] coordinates {(30.7,0)(30.7,121.5)};
  \addplot[black, line width=0.5pt, dash pattern=on 3.5pt off 2.5pt] coordinates {(0,0)(0,121.5)};
\end{axis}

% ---------------- Polarity / age column ----------------
\begin{axis}[depth axis, at={(542.5pt,-67.5pt)}, width=29.15pt, height=613pt,
  xmin=0, xmax=1, ymax=99.7, xtick=\empty,
  ytick={0,66.0,88.85}, yticklabels={0,0.78 Ma,0.99 Ma},
  ytick pos=right, yticklabel pos=right,
  major tick length=6.5pt,
  yticklabel style={font=\fs{9.1}{10}}]
  \addplot[recovered] coordinates {(0,0)(1,0)(1,66.0)(0,66.0)} -- cycle;
  \addplot[recovered] coordinates {(0,88.85)(1,88.85)(1,99.7)(0,99.7)} -- cycle;
\end{axis}

% ---------------- Titles and labels ----------------
\node[font=\fs{11.8}{14}] at (52.7pt,-23.75pt) {Hole U1395A};
\node[font=\fs{10.3}{12.4}, align=center] at (68.2pt,-49.9pt) {Core\\recovery};
\node[font=\fs{11.4}{14}, align=center, text=holeA] at (173.75pt,-24.75pt)
  {Hole U1395A\\magnetic susceptibility\\(10\textsuperscript{-5} SI)};
\node[font=\fs{11.6}{13.8}, align=center, text=holeB] at (207.2pt,-508pt)
  {Hole U1395B\\magnetic susceptibility\\(10\textsuperscript{-5} SI)};
\node[font=\fs{10.2}{12}, rotate=90] at (10.35pt,-397.85pt) {Depth (mbsf)};

\node[font=\fs{11.8}{14}] at (334.3pt,-23.75pt) {Hole U1395A};
\node[font=\fs{10.3}{12.4}, align=center] at (349.8pt,-49.9pt) {Core\\recovery};
\node[font=\fs{11}{13}, rotate=90] at (298.6pt,-436.6pt) {Depth (mbsf)};
\node[font=\fs{11.2}{13}] at (455.2pt,-38.3pt) {Inclination (°)};
\node[font=\fs{11}{13}] at (557pt,-55.3pt) {Age (Ma)};

\node[font=\fs{11}{12.4}, rotate=90, align=center] at (588pt,-119.35pt) {Standard\\core barrels};
\node[font=\fs{11}{13}, rotate=90] at (590pt,-270.5pt) {Brunhes Chron (normal)};
\node[font=\fs{11}{13}, rotate=90] at (590pt,-543pt) {Matuyama~~(reversed)};
\node[font=\fs{11}{13}, rotate=90] at (590pt,-671.5pt) {Jaramillo (normal)};
\end{tikzpicture}
\end{document}
